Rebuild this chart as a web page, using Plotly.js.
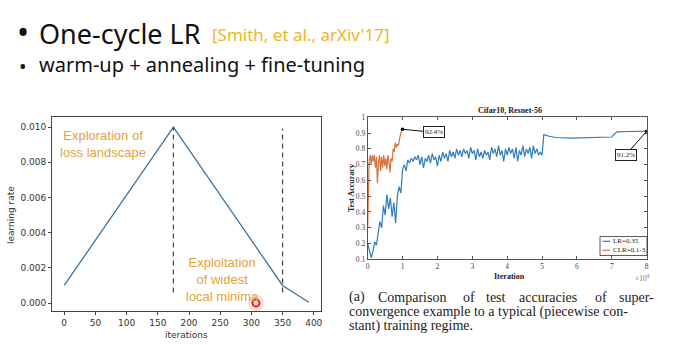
<!DOCTYPE html>
<html><head><meta charset="utf-8">
<script src="https://cdn.plot.ly/plotly-3.0.1.min.js"></script>
<style>html,body{margin:0;padding:0;background:#fff;}#chart{width:678px;height:345px;}</style>
</head><body><div id="chart"></div>
<script>
const W = 678, H = 345;

// ---------- left chart: one-cycle learning-rate schedule ----------
const lrIter  = [0, 175, 350, 392];
const lrValue = [0.001, 0.010, 0.001, 0.00005];
const phaseIter   = [175, 350];
const phaseTop    = [0.0100, 0.0099];
const phaseBottom = [0.0006, 0.0006];
const lrXTicks = [0, 50, 100, 150, 200, 250, 300, 350, 400];
const lrYTicks = [0, 0.002, 0.004, 0.006, 0.008, 0.010];

// ---------- right chart: Cifar10, Resnet-56 test accuracy ----------
const clrIter = [0.00,0.02,0.04,0.07,0.10,0.13,0.16,0.19,0.22,0.25,0.28,0.31,0.34,0.37,0.40,0.43,0.46,0.49,0.52,0.55,0.58,0.61,0.64,0.67,0.70,0.73,0.76,0.79,0.82,0.85,0.88,0.91,0.94,0.97,1.00];
const clrAcc  = [0.30,0.70,0.72,0.76,0.70,0.76,0.72,0.76,0.68,0.75,0.58,0.72,0.76,0.66,0.75,0.68,0.76,0.69,0.74,0.67,0.76,0.72,0.65,0.74,0.72,0.80,0.78,0.84,0.81,0.83,0.82,0.86,0.89,0.92,0.924];

const lrRunIter = [0.00,0.05,0.10,0.15,0.20,0.25,0.30,0.35,0.40,0.45,0.50,0.55,0.60,0.65,0.70,0.75,0.80,0.85,0.90,0.95,
  1.00,1.05,1.10,1.15,1.20,1.25,1.30,1.35,1.40,1.45,1.50,1.55,1.60,1.65,1.70,1.75,1.80,1.85,1.90,1.95,
  2.00,2.05,2.10,2.15,2.20,2.25,2.30,2.35,2.40,2.45,2.50,2.55,2.60,2.65,2.70,2.75,2.80,2.85,2.90,2.95,
  3.00,3.05,3.10,3.15,3.20,3.25,3.30,3.35,3.40,3.45,3.50,3.55,3.60,3.65,3.70,3.75,3.80,3.85,3.90,3.95,
  4.00,4.05,4.10,4.15,4.20,4.25,4.30,4.35,4.40,4.45,4.50,4.55,4.60,4.65,4.70,4.75,4.80,4.85,4.90,4.95,
  5.00,5.05,5.20,5.40,5.80,6.20,6.60,7.00,7.05,7.15,7.50,8.00];
const lrRunAcc = [0.20,0.16,0.11,0.15,0.21,0.19,0.27,0.34,0.30,0.44,0.38,0.51,0.42,0.49,0.37,0.46,0.33,0.50,0.56,0.52,
  0.67,0.70,0.66,0.73,0.71,0.74,0.72,0.75,0.73,0.76,0.70,0.75,0.68,0.74,0.72,0.76,0.71,0.77,0.73,0.75,
  0.69,0.76,0.72,0.78,0.74,0.77,0.72,0.79,0.75,0.78,0.74,0.80,0.76,0.79,0.75,0.80,0.77,0.79,0.74,0.81,
  0.77,0.79,0.73,0.80,0.75,0.78,0.74,0.79,0.76,0.78,0.73,0.81,0.77,0.80,0.75,0.82,0.76,0.79,0.72,0.80,
  0.76,0.81,0.77,0.80,0.74,0.81,0.72,0.79,0.76,0.82,0.75,0.80,0.77,0.81,0.74,0.82,0.77,0.80,0.76,0.78,
  0.76,0.89,0.88,0.872,0.868,0.869,0.872,0.875,0.89,0.908,0.910,0.912];
const accXTicks = [0,1,2,3,4,5,6,7,8];
const accYTicks = [0.1,0.2,0.3,0.4,0.5,0.6,0.7,0.8,0.9,1];
const accYLabels = ['0.1','0.2','0.3','0.4','0.5','0.6','0.7','0.8','0.9','1'];
const tipIter = [1.0, 8.0];
const tipAcc  = [0.924, 0.912];
const tipLabels = ['92.4%', '91.2%'];
const seriesNames = ['LR=0.35', 'CLR=0.1-3'];

const BLUE = '#2f7dc0', ORANGE = '#d9733d', LRLINE = '#41729a', NOTE = '#e3a23c';
const px = x => x / W, py = y => 1 - y / H;
const serif = 'Liberation Serif, Times New Roman, serif';
const sans = 'DejaVu Sans, sans-serif';

const traces = [
  {x: lrIter, y: lrValue, xaxis: 'x', yaxis: 'y', mode: 'lines', line: {color: LRLINE, width: 1.3}, hoverinfo: 'skip'},
];
phaseIter.forEach((it, i) => traces.push({x: [it, it], y: [phaseBottom[i], phaseTop[i]], xaxis: 'x', yaxis: 'y', mode: 'lines', line: {color: '#444', width: 1.2, dash: '5px,4px'}}));
traces.push({x: lrRunIter, y: lrRunAcc, xaxis: 'x2', yaxis: 'y2', mode: 'lines', line: {color: BLUE, width: 1.2}, name: seriesNames[0]});
traces.push({x: clrIter, y: clrAcc, xaxis: 'x2', yaxis: 'y2', mode: 'lines', line: {color: ORANGE, width: 1.2}, name: seriesNames[1]});
traces.push({x: tipIter, y: tipAcc, xaxis: 'x2', yaxis: 'y2', mode: 'markers', marker: {color: '#000', size: 3.5}});

const ann = [];
function txt(x, y, text, size, color, family, opts) {
  ann.push(Object.assign({xref: 'paper', yref: 'paper', x: px(x), y: py(y), text: text, showarrow: false,
    font: {size: size, color: color, family: family}, xanchor: 'center', yanchor: 'middle'}, opts || {}));
}
// slide text
const slideFont = 'Noto Sans, Open Sans, sans-serif';
txt(23, 31, '•', 32, '#111', slideFont);
txt(37, 33, 'One-cycle LR', 27, '#111', slideFont, {xanchor: 'left'});
txt(210, 34.5, "[Smith, et al., arXiv'17]", 17, '#f0b428', slideFont, {xanchor: 'left'});
txt(23, 66, '•', 20, '#111', slideFont);
txt(37, 65, 'warm-up + annealing + fine-tuning', 20, '#111', slideFont, {xanchor: 'left'});

// left chart texts
txt(103, 144, 'Exploration of<br>loss landscape', 13, NOTE, 'Liberation Sans, Arial, sans-serif');
txt(222, 279, 'Exploitation<br>of widest<br>local minima', 13, NOTE, 'Liberation Sans, Arial, sans-serif');
txt(186, 334.5, 'iterations', 9, '#333', sans);
txt(11, 215, 'learning rate', 9, '#333', sans, {textangle: -90});

// right chart texts
txt(510, 110.5, '<b>Cifar10, Resnet-56</b>', 8, '#222', serif);
txt(351, 188, '<b>Test Accuracy</b>', 8, '#222', serif, {textangle: -90});
txt(510, 276, '<b>Iteration</b>', 8, '#222', serif);
txt(642, 278, '×10<sup>4</sup>', 7.5, '#777', serif);
// legend
txt(611, 241.3, seriesNames[0], 7, '#222', serif, {xanchor: 'left'});
txt(611, 250.3, seriesNames[1], 7, '#222', serif, {xanchor: 'left'});

// data tips
const tipOffsets = [[31, 3], [-21, 24]];
tipIter.forEach((t, i) => ann.push({xref: 'x2', yref: 'y2', x: t, y: tipAcc[i], text: tipLabels[i], showarrow: true,
  arrowhead: 0, arrowwidth: 1, arrowcolor: '#111', ax: tipOffsets[i][0], ay: tipOffsets[i][1], standoff: 0,
  bordercolor: '#222', borderwidth: 1, borderpad: 1, bgcolor: '#fff', font: {size: 7, family: serif, color: '#222'}}));

// caption
const capFont = serif, capSize = 14, capColor = '#222';
const line1 = [['(a)', 346.7], ['Comparison', 375.7], ['of', 460.7], ['test', 484], ['accuracies', 516.7], ['of', 592.7], ['super-', 616.7]];
line1.forEach(w => txt(w[1], 297, w[0], capSize, capColor, capFont, {xanchor: 'left'}));
txt(346.7, 311.5, 'convergence example to a typical (piecewise con-', capSize, capColor, capFont, {xanchor: 'left'});
txt(346.7, 326, 'stant) training regime.', capSize, capColor, capFont, {xanchor: 'left'});

const shapes = [
  // legend box and samples
  {type: 'rect', xref: 'paper', yref: 'paper', x0: px(600), x1: px(647), y0: py(236.5), y1: py(255.5), line: {color: '#333', width: 0.8}, fillcolor: 'rgba(255,255,255,1)', layer: 'above'},
  {type: 'line', xref: 'paper', yref: 'paper', x0: px(602.5), x1: px(610), y0: py(241.3), y1: py(241.3), line: {color: BLUE, width: 1.2}},
  {type: 'line', xref: 'paper', yref: 'paper', x0: px(602.5), x1: px(610), y0: py(250.3), y1: py(250.3), line: {color: ORANGE, width: 1.2}},
  // mouse-cursor highlight (decoration)
  {type: 'circle', xref: 'paper', yref: 'paper', xsizemode: 'pixel', ysizemode: 'pixel', xanchor: px(256), yanchor: py(303), x0: -8, x1: 8, y0: -8, y1: 8, fillcolor: 'rgba(255,90,90,0.22)', line: {width: 0}},
  {type: 'circle', xref: 'paper', yref: 'paper', xsizemode: 'pixel', ysizemode: 'pixel', xanchor: px(256), yanchor: py(303), x0: -3.5, x1: 3.5, y0: -3.5, y1: 3.5, fillcolor: '#ffe0e0', line: {color: '#e01010', width: 1.8}}
];

const layout = {
  width: W, height: H, margin: {l: 0, r: 0, t: 0, b: 0}, showlegend: false,
  paper_bgcolor: '#fff', plot_bgcolor: '#fff',
  xaxis: {domain: [px(52), px(321)], range: [-19.6, 411.6], tickvals: lrXTicks, ticks: 'outside', ticklen: 3, tickcolor: '#444',
    showline: true, mirror: true, linecolor: '#444', linewidth: 1, showgrid: false, zeroline: false,
    tickfont: {family: sans, size: 9, color: '#333'}, anchor: 'y'},
  yaxis: {domain: [py(311), py(117)], range: [-0.00045, 0.01057], tickvals: lrYTicks, tickformat: '.3f', ticks: 'outside', ticklen: 3, tickcolor: '#444',
    showline: true, mirror: true, linecolor: '#444', linewidth: 1, showgrid: false, zeroline: false,
    tickfont: {family: sans, size: 9, color: '#333'}, anchor: 'x'},
  xaxis2: {domain: [px(367.7), px(646.7)], range: [0, 8], tickvals: accXTicks, ticks: 'inside', ticklen: 3, tickcolor: '#555',
    showline: true, mirror: 'ticks', linecolor: '#555', linewidth: 1, showgrid: false, zeroline: false,
    tickfont: {family: serif, size: 7.5, color: '#444'}, anchor: 'y2'},
  yaxis2: {domain: [py(259.3), py(117.3)], range: [0.1, 1], tickvals: accYTicks, ticktext: accYLabels, ticks: 'inside', ticklen: 3, tickcolor: '#555',
    showline: true, mirror: 'ticks', linecolor: '#555', linewidth: 1, showgrid: false, zeroline: false,
    tickfont: {family: serif, size: 7.5, color: '#444'}, anchor: 'x2'},
  annotations: ann, shapes: shapes
};
Plotly.newPlot('chart', traces, layout, {staticPlot: true, displayModeBar: false});
</script></body></html>
